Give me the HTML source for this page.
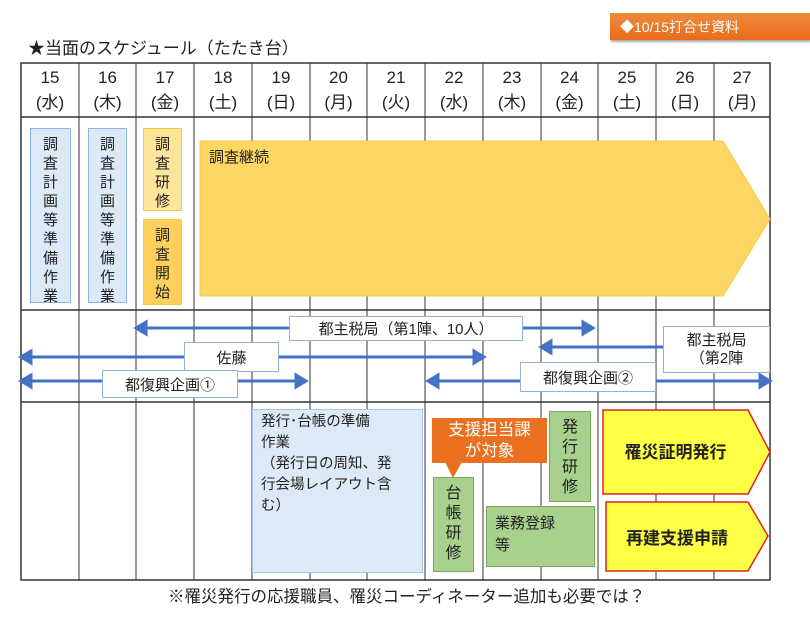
<!DOCTYPE html>
<html><head><meta charset="utf-8"><style>
body{margin:0;width:810px;height:619px;background:#fff;position:relative;overflow:hidden;font-family:"Liberation Sans","Noto Sans CJK JP",sans-serif;color:#222}
.a{position:absolute;box-sizing:border-box}
.vt{font-size:15px;text-align:center;line-height:19px;padding-top:6px}
.lb{background:#fff;border:1px solid #8fb1e3;font-size:15px;display:flex;align-items:center;justify-content:center;white-space:nowrap}
.hd{font-size:17px;text-align:center;line-height:25px}
</style></head><body>
<div class="a" style="left:28px;top:34px;font-size:17px">★当面のスケジュール（たたき台）</div>
<div class="a" style="left:610px;top:13px;width:200px;height:27px;background:linear-gradient(#f08a3c,#e86c1a);color:#fff;font-size:14px;padding:4px 0 0 10px;box-shadow:1px 2px 2px #aaa">◆10/15打合せ資料</div>
<svg class="a" style="left:0;top:0" width="810" height="619">
<rect x="21" y="63" width="749" height="517" fill="none" stroke="#333" stroke-width="1.5"/>
<g stroke="#333" stroke-width="1">
<line x1="79" y1="63" x2="79" y2="580"/><line x1="136" y1="63" x2="136" y2="580"/><line x1="194" y1="63" x2="194" y2="580"/><line x1="252" y1="63" x2="252" y2="580"/><line x1="310" y1="63" x2="310" y2="580"/><line x1="367" y1="63" x2="367" y2="580"/><line x1="425" y1="63" x2="425" y2="580"/><line x1="483" y1="63" x2="483" y2="580"/><line x1="541" y1="63" x2="541" y2="580"/><line x1="598" y1="63" x2="598" y2="580"/><line x1="656" y1="63" x2="656" y2="580"/><line x1="714" y1="63" x2="714" y2="580"/>
</g>
<g stroke="#333" stroke-width="1.5"><line x1="21" y1="117" x2="770" y2="117"/><line x1="21" y1="310" x2="770" y2="310"/><line x1="21" y1="402" x2="770" y2="402"/></g>
<polygon points="200,141 723,141 770,219 723,296 200,296" fill="#fdd663" stroke="#f7c948"/>
<g stroke="#4472c4" stroke-width="3" fill="#4472c4">
<line x1="140" y1="328" x2="588" y2="328"/><polygon points="136,328 146,322 146,334"/><polygon points="593,328 583,322 583,334"/>
<line x1="25" y1="357" x2="480" y2="357"/><polygon points="21,357 31,351 31,363"/><polygon points="484,357 474,351 474,363"/>
<line x1="25" y1="381" x2="302" y2="381"/><polygon points="21,381 31,375 31,387"/><polygon points="306,381 296,375 296,387"/>
<line x1="545" y1="347" x2="663" y2="347"/><polygon points="541,347 551,341 551,353"/>
<line x1="432" y1="381" x2="766" y2="381"/><polygon points="428,381 438,375 438,387"/><polygon points="770,381 760,375 760,387"/>
</g>
<polygon points="603,410 748,410 770,452 748,494 603,494" fill="#ffff44" stroke="#e02020" stroke-width="1.5"/>
<polygon points="606,502 748,502 768,536 748,571 606,571" fill="#ffff44" stroke="#e02020" stroke-width="1.5"/>
<polygon points="445,462 462,462 453,478" fill="#e8701e"/>
</svg>
<div class="a hd" style="left:21px;top:65px;width:58px">15<br>(水)</div>
<div class="a hd" style="left:79px;top:65px;width:57px">16<br>(木)</div>
<div class="a hd" style="left:136px;top:65px;width:58px">17<br>(金)</div>
<div class="a hd" style="left:194px;top:65px;width:58px">18<br>(土)</div>
<div class="a hd" style="left:252px;top:65px;width:58px">19<br>(日)</div>
<div class="a hd" style="left:310px;top:65px;width:57px">20<br>(月)</div>
<div class="a hd" style="left:367px;top:65px;width:58px">21<br>(火)</div>
<div class="a hd" style="left:425px;top:65px;width:58px">22<br>(水)</div>
<div class="a hd" style="left:483px;top:65px;width:58px">23<br>(木)</div>
<div class="a hd" style="left:541px;top:65px;width:57px">24<br>(金)</div>
<div class="a hd" style="left:598px;top:65px;width:58px">25<br>(土)</div>
<div class="a hd" style="left:656px;top:65px;width:58px">26<br>(日)</div>
<div class="a hd" style="left:714px;top:65px;width:56px">27<br>(月)</div>
<div class="a vt" style="left:30px;top:128px;width:41px;height:175px;background:#dce9f7;border:1.5px solid #8fb1e3">調<br>査<br>計<br>画<br>等<br>準<br>備<br>作<br>業</div>
<div class="a vt" style="left:88px;top:128px;width:39px;height:175px;background:#dce9f7;border:1.5px solid #8fb1e3">調<br>査<br>計<br>画<br>等<br>準<br>備<br>作<br>業</div>
<div class="a vt" style="left:143px;top:128px;width:39px;height:83px;background:#fde59a;border:1.5px solid #f7c948">調<br>査<br>研<br>修</div>
<div class="a vt" style="left:143px;top:219px;width:39px;height:86px;background:#fcd05a;border:1.5px solid #f7c948">調<br>査<br>開<br>始</div>
<div class="a" style="left:209px;top:146px;font-size:15px">調査継続</div>
<div class="a lb" style="left:289px;top:316px;width:234px;height:25px">都主税局（第1陣、10人）</div>
<div class="a lb" style="left:184px;top:342px;width:95px;height:30px">佐藤</div>
<div class="a lb" style="left:102px;top:370px;width:136px;height:28px">都復興企画①</div>
<div class="a lb" style="left:663px;top:326px;width:107px;height:47px;line-height:18px;text-align:center;white-space:normal">都主税局<br>（第2陣</div>
<div class="a lb" style="left:520px;top:362px;width:136px;height:30px">都復興企画②</div>
<div class="a" style="left:252px;top:409px;width:171px;height:164px;background:#dce9f7;border:1.5px solid #a9c4ea;font-size:14.5px;line-height:21px;padding:2px 8px;white-space:nowrap">発行･台帳の準備<br>作業<br>（発行日の周知、発<br>行会場レイアウト含<br>む）</div>
<div class="a" style="left:432px;top:418px;width:115px;height:45px;background:#e8701e;color:#fff;font-size:16.5px;text-align:center;line-height:21px;padding-top:2px">支援担当課<br>が対象</div>
<div class="a vt" style="left:433px;top:477px;width:41px;height:95px;background:#a9d18e;border:1.5px solid #7aa860;font-size:16px;line-height:20px">台<br>帳<br>研<br>修</div>
<div class="a vt" style="left:549px;top:411px;width:42px;height:91px;background:#a9d18e;border:1.5px solid #7aa860;font-size:16px;line-height:20px">発<br>行<br>研<br>修</div>
<div class="a" style="left:486px;top:506px;width:109px;height:61px;background:#a9d18e;border:1.5px solid #7aa860;font-size:15px;line-height:22px;padding:6px 8px">業務登録<br>等</div>
<div class="a" style="left:603px;top:438px;width:145px;text-align:center;font-size:17px;font-weight:bold">罹災証明発行</div>
<div class="a" style="left:606px;top:524px;width:142px;text-align:center;font-size:17px;font-weight:bold">再建支援申請</div>
<div class="a" style="left:168px;top:583px;font-size:16.5px">※罹災発行の応援職員、罹災コーディネーター追加も必要では？</div>
</body></html>
